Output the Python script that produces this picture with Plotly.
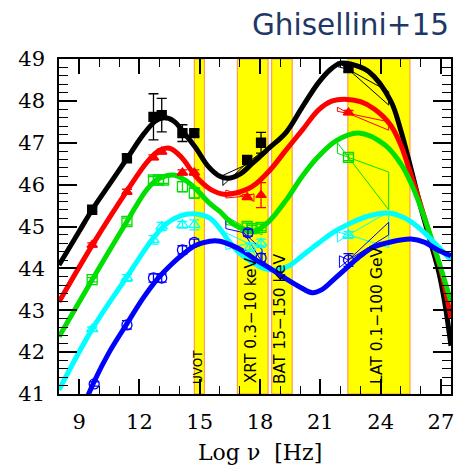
import plotly.graph_objects as go

# ---------------- data ----------------
colors = ["#000000", "#ff0000", "#00e000", "#00ffff", "#0000ff"]
names = ["black", "red", "green", "cyan", "blue"]

# SED model curves (log nu, log nuLnu)
curve_x = {
    "black": [8.0, 9.0, 9.65, 10.5, 11.38, 12.2, 12.8, 13.2, 13.7, 14.2, 14.8, 15.4, 16.0, 16.4, 17.0, 17.6, 18.4, 19.3, 20.1, 20.9, 21.5, 22.0, 22.5, 23.4, 24.5, 25.0, 25.5, 26.0, 26.5, 26.9, 27.2, 27.5],
    "red":   [8.0, 9.65, 11.38, 12.4, 13.0, 13.5, 14.1, 14.8, 15.5, 16.2, 16.8, 17.6, 18.5, 19.3, 20.1, 20.9, 21.6, 22.2, 23.0, 23.7, 24.5, 25.0, 25.4, 26.0, 26.5, 27.0, 27.5],
    "green": [8.0, 9.65, 11.38, 12.4, 13.0, 13.7, 14.3, 14.9, 15.5, 16.0, 16.5, 17.0, 17.7, 18.4, 19.3, 20.1, 20.9, 21.8, 22.9, 24.2, 25.0, 25.5, 26.0, 26.5, 27.0, 27.5],
    "cyan":  [8.0, 9.65, 11.38, 12.5, 13.3, 14.0, 14.8, 15.5, 16.0, 16.5, 17.0, 17.6, 18.2, 18.8, 19.4, 20.1, 20.9, 21.7, 22.5, 23.4, 24.4, 25.2, 25.9, 26.6, 27.5],
    "blue":  [9.0, 9.75, 10.5, 11.38, 12.2, 12.9, 13.6, 14.2, 14.8, 15.5, 16.0, 16.6, 17.2, 17.8, 18.5, 19.3, 20.0, 20.6, 21.1, 21.7, 22.4, 23.0, 23.6, 24.5, 25.5, 26.2, 26.8, 27.5],
}
curve_y = {
    "black": [44.08, 44.88, 45.4, 46.0, 46.62, 47.2, 47.52, 47.6, 47.52, 47.25, 46.88, 46.45, 46.2, 46.15, 46.25, 46.5, 46.85, 47.25, 47.85, 48.43, 48.75, 48.9, 48.88, 48.7, 48.0, 47.3, 46.4, 45.45, 44.6, 43.9, 43.15, 42.15],
    "red":   [43.2, 44.55, 45.85, 46.55, 46.82, 46.87, 46.65, 46.2, 45.9, 45.77, 45.8, 45.95, 46.35, 46.83, 47.3, 47.78, 48.0, 48.04, 47.98, 47.8, 47.42, 46.95, 46.4, 45.5, 44.72, 43.95, 42.8],
    "green": [42.37, 43.73, 45.12, 45.9, 46.15, 46.23, 46.1, 45.85, 45.55, 45.36, 45.12, 44.97, 44.88, 45.1, 45.63, 46.2, 46.67, 47.05, 47.23, 46.95, 46.5, 46.05, 45.45, 44.75, 44.0, 43.2],
    "cyan":  [41.1, 42.55, 43.8, 44.6, 45.05, 45.25, 45.3, 45.2, 44.95, 44.62, 44.35, 44.15, 44.0, 43.96, 44.05, 44.3, 44.6, 44.88, 45.08, 45.25, 45.32, 45.2, 44.97, 44.65, 44.2],
    "blue":  [40.45, 41.3, 42.0, 42.68, 43.3, 43.75, 44.1, 44.35, 44.55, 44.65, 44.65, 44.55, 44.4, 44.2, 44.0, 43.75, 43.55, 43.42, 43.5, 43.75, 44.05, 44.3, 44.5, 44.63, 44.7, 44.62, 44.45, 44.3],
}

# observed data points
pts_x = {
    "black": [9.65, 11.38, 12.7, 13.11, 14.14, 14.73, 17.36, 18.05, 22.4],
    "red":   [9.65, 11.38, 12.7, 13.11, 14.14, 14.73, 17.36, 18.05, 22.4],
    "green": [9.65, 11.38, 12.7, 12.95, 13.2, 14.14, 14.73, 17.36, 17.6, 18.05, 22.4],
    "cyan":  [9.65, 11.38, 12.7, 13.11, 14.14, 14.73, 17.5, 18.05, 22.4],
    "blue":  [9.75, 11.38, 12.7, 13.11, 14.14, 14.73, 17.4, 18.05, 22.4],
}
pts_y = {
    "black": [45.4, 46.63, 47.62, 47.66, 47.23, 47.23, 46.59, 47.0, 48.78],
    "red":   [44.56, 45.83, 46.65, 46.79, 46.29, 46.29, 45.7, 45.75, 47.72],
    "green": [43.73, 45.12, 46.11, 46.11, 46.11, 45.95, 45.8, 45.0, 44.95, 44.98, 46.65],
    "cyan":  [42.55, 43.77, 44.68, 45.0, 45.04, 45.04, 44.5, 44.6, 44.8],
    "blue":  [41.24, 42.65, 43.77, 43.77, 44.44, 44.62, 44.85, 44.25, 44.2],
}
pts_err = {
    "black": [0.05, 0.1, 0.55, 0.4, 0.2, 0.08, 0.08, 0.25, 0.08],
    "red":   [0.05, 0.06, 0.06, 0.06, 0.06, 0.06, 0.06, 0.3, 0.05],
    "green": [0.05, 0.08, 0.08, 0.08, 0.08, 0.12, 0.12, 0.08, 0.08, 0.08, 0.08],
    "cyan":  [0.05, 0.08, 0.1, 0.1, 0.08, 0.12, 0.1, 0.1, 0.08],
    "blue":  [0.05, 0.1, 0.1, 0.1, 0.1, 0.08, 0.08, 0.1, 0.15],
}
symbols = ["square", "triangle-up", "square-open", "triangle-up-open", "circle-open"]

# bowties: (x_left, y_left_hi, y_left_lo, x_pivot, y_pivot, x_right, y_right_hi, y_right_lo)
bowties = {
    "black": [(16.15, 46.22, 45.98, 17.2, 46.45, 18.0, 46.75, 46.6),
              (21.85, 48.93, 48.82, 22.4, 48.75, 24.4, 48.22, 47.9)],
    "red":   [(16.3, 45.87, 45.68, 17.2, 45.72, 17.7, 45.78, 45.6),
              (21.85, 47.85, 47.75, 22.4, 47.7, 24.4, 47.5, 47.3)],
    "green": [(16.3, 45.25, 45.05, 17.3, 44.97, 18.1, 44.95, 44.8),
              (21.85, 47.0, 46.75, 22.4, 46.65, 24.4, 46.3, 45.4)],
    "cyan":  [(16.3, 44.85, 44.45, 17.4, 44.6, 18.1, 44.55, 44.05),
              (21.85, 44.87, 44.63, 22.4, 44.8, 24.4, 45.35, 44.5)],
    "blue":  [(16.3, 45.25, 44.95, 17.2, 44.85, 18.1, 44.45, 44.15),
              (21.95, 44.3, 44.02, 22.4, 44.2, 24.4, 45.1, 44.8)],
}

band_lo = [14.73, 16.87, 18.58, 22.37]
band_hi = [15.23, 18.40, 19.60, 25.46]
band_labels = ["UVOT", "XRT 0.3\u221210 keV", "BAT 15\u2212150 keV", "LAT 0.1\u2212100 GeV"]
band_label_size = [12, 15.5, 15.5, 15.5]

x_ticks = [9, 12, 15, 18, 21, 24, 27]
y_ticks = [41, 42, 43, 44, 45, 46, 47, 48, 49]

# ---------------- figure ----------------
fig = go.Figure()

for lo, hi in zip(band_lo, band_hi):
    fig.add_shape(type="rect", xref="x", yref="paper", x0=lo, x1=hi, y0=0, y1=1,
                  fillcolor="#ffff00", line=dict(color="#ff8c40", width=1), layer="below")

for nm, col in zip(names, colors):
    for bt in bowties[nm]:
        xl, ylh, yll, xp, yp, xr, yrh, yrl = bt
        fig.add_trace(go.Scatter(
            x=[xl, xp, xr, xr, xp, xl, xl],
            y=[ylh, yp, yrh, yrl, yp, yll, ylh],
            mode="lines", line=dict(color=col, width=1), hoverinfo="skip", showlegend=False))

for nm, col in zip(names, colors):
    fig.add_trace(go.Scatter(
        x=curve_x[nm], y=curve_y[nm], mode="lines",
        line=dict(color=col, width=5, shape="spline", smoothing=1.0),
        showlegend=False, hoverinfo="skip"))

for nm, col, sym in zip(names, colors, symbols):
    fig.add_trace(go.Scatter(
        x=pts_x[nm], y=pts_y[nm], mode="markers",
        marker=dict(symbol=sym, size=9 if "open" not in sym else 10, color=col,
                    line=dict(color=col, width=1.3)),
        error_y=dict(type="data", array=pts_err[nm], color=col, thickness=1.3, width=5),
        showlegend=False))

for lo, hi, lab, fs in zip(band_lo, band_hi, band_labels, band_label_size):
    fig.add_annotation(x=(lo + hi) / 2, y=41.2, xref="x", yref="y", text=lab,
                       textangle=-90, showarrow=False, xanchor="center", yanchor="bottom",
                       xshift=-2, font=dict(family="DejaVu Sans", size=fs, color="black"))

fig.add_annotation(x=0.985, y=1.1015, xref="paper", yref="paper", text="Ghisellini+15",
                   showarrow=False, xanchor="right", yanchor="middle", xshift=6,
                   font=dict(family="DejaVu Sans", size=29.5, color="#1d3766"))

fig.add_annotation(x=0.514, y=-0.175, xref="paper", yref="paper", text="Log \u03bd  [Hz]",
                   showarrow=False, xanchor="center", yanchor="middle",
                   font=dict(family="DejaVu Serif", size=22, color="black"))

axis_common = dict(showgrid=False, zeroline=False, showline=True, linecolor="black",
                   linewidth=1.5, mirror="allticks", ticks="inside", tickcolor="black",
                   tickwidth=1.5, tickfont=dict(family="DejaVu Serif", size=21, color="black"))

fig.update_xaxes(range=[8, 27.5], tickvals=x_ticks, ticklen=15, ticklabelstandoff=8,
                 ticklabeloverflow="allow",
                 minor=dict(dtick=1, tick0=0, ticklen=8, ticks="inside", tickcolor="black", tickwidth=1.2),
                 **axis_common)
fig.update_yaxes(range=[41, 49], tickvals=y_ticks, ticklen=18, ticklabelstandoff=8,
                 minor=dict(dtick=0.2, tick0=0, ticklen=9, ticks="inside", tickcolor="black", tickwidth=1.2),
                 **axis_common)

fig.update_layout(width=454, height=465, margin=dict(l=59, r=0, t=59, b=71),
                  paper_bgcolor="white", plot_bgcolor="white", showlegend=False)

fig.write_html("out.html")
